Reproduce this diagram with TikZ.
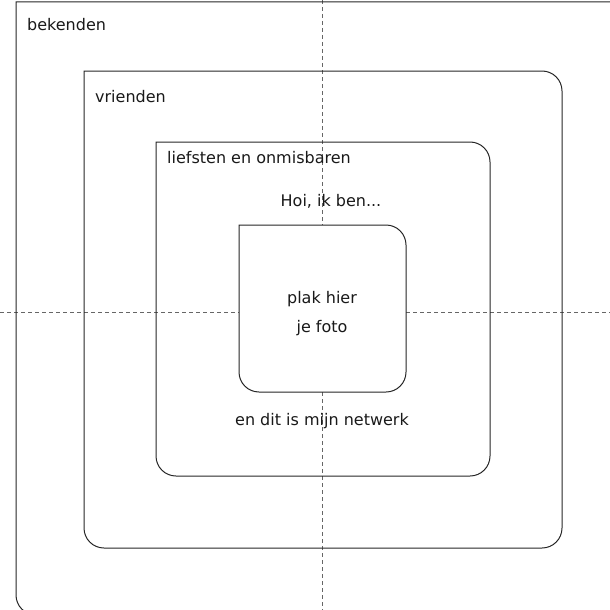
\documentclass[tikz,border=0pt]{standalone}
\usepackage{fontspec}
\setmainfont{DejaVu Sans}
\begin{document}
\begin{tikzpicture}[x=1pt,y=-1pt,
  boxline/.style={draw=black!85,line width=1pt},
  guide/.style={draw=black!60,line width=1pt,dash pattern=on 4pt off 3pt},
  lbl/.style={inner sep=0pt,font=\fontsize{16}{19}\selectfont,text=black!90}]
\useasboundingbox (0,0) rectangle (610,610);
\begin{scope}
\clip (0,0) rectangle (610,610);
% guides
\coordinate (gt) at (322,0); \coordinate (gb) at (322,610);
\coordinate (gl) at (0,312); \coordinate (gr) at (610,312);
\draw[guide] (gt) -- (gb);
\draw[guide] (gl) -- (gr);
% outer box (bekenden)
\draw[boxline] (16,2) -- (630,2) [rounded corners=20pt] -- (630,615) -- (16,615) [sharp corners] -- cycle;
% vrienden
\draw[boxline] (84,71) [rounded corners=20pt] -- (562,71) -- (562,548) -- (84,548) [sharp corners] -- cycle;
% liefsten
\draw[boxline] (156,142) [rounded corners=20pt] -- (490,142) -- (490,476) -- (156,476) [sharp corners] -- cycle;
% foto
\draw[boxline,fill=white] (239,225) [rounded corners=20pt] -- (406,225) -- (406,392) -- (239,392) [sharp corners] -- cycle;
\end{scope}
\node[lbl,anchor=base west] (bek) at (27,31) {bekenden};
\node[lbl,anchor=base west] (vri) at (95,102) {vrienden};
\node[lbl,anchor=base west] (lie) at (167,163) {liefsten en onmisbaren};
\node[lbl,anchor=base] (hoi) at (331,206) {Hoi, ik ben...};
\node[lbl,anchor=base] (plak) at (322,303) {plak hier};
\node[lbl,anchor=base] (foto) at (322,332) {je foto};
\node[lbl,anchor=base] (net) at (322,425) {en dit is mijn netwerk};
\end{tikzpicture}
\end{document}
